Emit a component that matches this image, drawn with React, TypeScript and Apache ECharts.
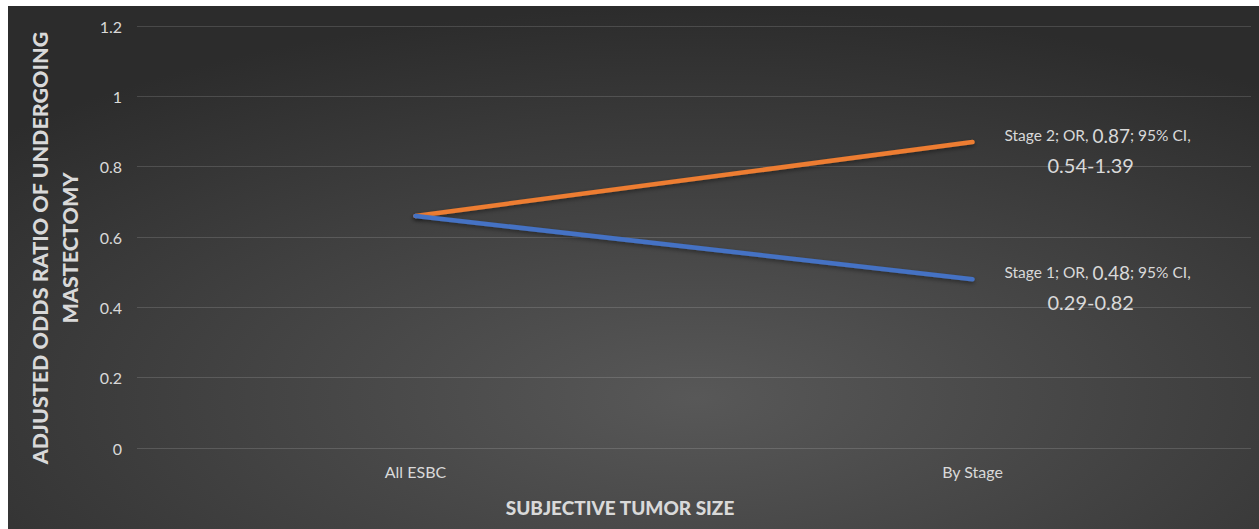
import React, { useEffect, useRef } from "react";
import * as echarts from "echarts";

const categories = ["All ESBC", "By Stage"];
const stage2Values = [0.66, 0.87];
const stage1Values = [0.66, 0.48];
const stage2Label = { name: "Stage 2; OR, ", or: "0.87", ci: "0.54-1.39" };
const stage1Label = { name: "Stage 1; OR, ", or: "0.48", ci: "0.29-0.82" };
const yTicks = { min: 0, max: 1.2, interval: 0.2 };

const FONT = "Lato, 'Open Sans', sans-serif";
const TXT = "#d9d9d9";

function endLabel(l: { name: string; or: string; ci: string }) {
  return {
    show: true,
    distance: 32,
    offset: [0, 8],
    formatter: () => `{a|${l.name}}{b|${l.or}}{a|; 95% CI,}\n{c|${l.ci}}`,
    rich: {
      a: { fontSize: 15.5, color: TXT, fontFamily: FONT, lineHeight: 30 },
      b: { fontSize: 19, color: TXT, fontFamily: FONT, lineHeight: 30 },
      c: { fontSize: 20, color: TXT, fontFamily: FONT, lineHeight: 30, padding: [0, 0, 0, 43] },
    },
  };
}

export default function App() {
  const ref = useRef<HTMLDivElement>(null);
  useEffect(() => {
    if (!ref.current) return;
    const chart = echarts.init(ref.current, undefined, { renderer: "svg" });
    const lineStyle = (color: string) => ({
      color,
      width: 4.5,
      cap: "round",
      shadowColor: "rgba(0,0,0,0.4)",
      shadowBlur: 4,
      shadowOffsetY: 2,
    });
    chart.setOption({
      animation: false,
      backgroundColor: {
        type: "radial",
        x: 0.55,
        y: 0.75,
        r: 0.75,
        colorStops: [
          { offset: 0, color: "#585858" },
          { offset: 1, color: "#2c2c2c" },
        ],
      },
      grid: { left: 129, right: 8, top: 20, bottom: 81, containLabel: false },
      xAxis: {
        type: "category",
        data: categories,
        boundaryGap: true,
        axisLine: { show: false },
        axisTick: { show: false },
        axisLabel: { color: TXT, fontSize: 16, fontFamily: FONT, margin: 15 },
      },
      yAxis: {
        type: "value",
        min: yTicks.min,
        max: yTicks.max,
        interval: yTicks.interval,
        axisLine: { show: false },
        axisTick: { show: false },
        axisLabel: {
          color: TXT,
          fontSize: 16,
          fontFamily: FONT,
          margin: 15,
          formatter: (v: number) => String(Math.round(v * 10) / 10),
        },
        splitLine: { lineStyle: { color: "rgba(255,255,255,0.14)", width: 1 } },
      },
      graphic: [
        {
          type: "text",
          x: 47,
          y: 242,
          rotation: Math.PI / 2,
          style: {
            text: "ADJUSTED ODDS RATIO OF UNDERGOING\nMASTECTOMY",
            align: "center",
            verticalAlign: "middle",
            fontSize: 21.5,
            fontWeight: 900,
            fontFamily: FONT,
            fill: TXT,
            lineHeight: 30,
          },
        },
        {
          type: "text",
          x: 612,
          y: 501,
          style: {
            text: "SUBJECTIVE TUMOR SIZE",
            align: "center",
            verticalAlign: "middle",
            fontSize: 19,
            fontWeight: 900,
            fontFamily: FONT,
            fill: TXT,
          },
        },
      ],
      series: [
        {
          name: "Stage 2",
          type: "line",
          data: stage2Values,
          symbol: "none",
          lineStyle: lineStyle("#ed7d31"),
          itemStyle: { color: "#ed7d31" },
          endLabel: endLabel(stage2Label),
        },
        {
          name: "Stage 1",
          type: "line",
          data: stage1Values,
          symbol: "none",
          lineStyle: lineStyle("#4472c4"),
          itemStyle: { color: "#4472c4" },
          endLabel: endLabel(stage1Label),
        },
      ],
    });
    return () => chart.dispose();
  }, []);
  return (
    <div
      ref={ref}
      style={{ position: "absolute", left: 8, top: 6, width: 1251, height: 523 }}
    />
  );
}
